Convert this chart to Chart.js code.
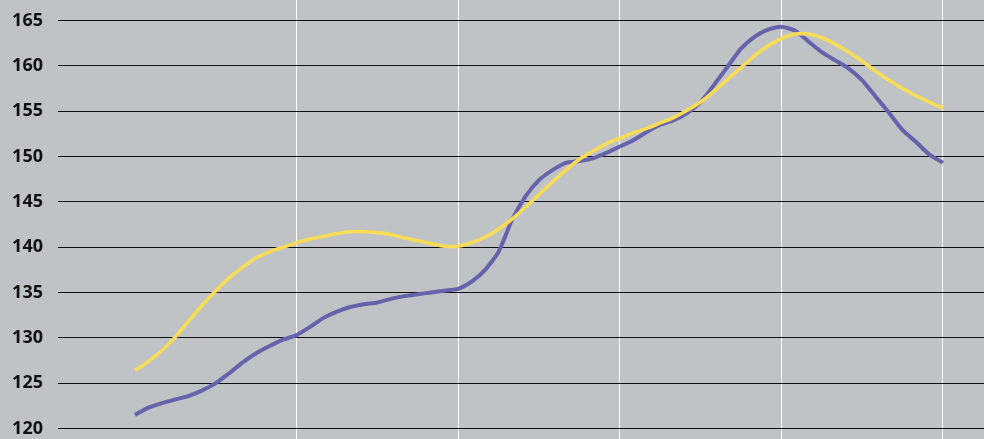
<!DOCTYPE html>
<html>
<head>
<meta charset="utf-8">
<script src="https://cdn.jsdelivr.net/npm/chart.js@4"></script>
<style>
  html, body { margin: 0; padding: 0; background: #bfc3c6; }
  #wrap { width: 984px; height: 439px; position: relative; }
</style>
</head>
<body>
<div id="wrap"><canvas id="myChart"></canvas></div>
<script>
// datos (un punto por mes, 61 puntos)
const months = Array.from({ length: 61 }, (_, i) => i);
const purpleValues = [121.5, 122.3, 122.8, 123.2, 123.6, 124.2, 125.0, 126.1, 127.3, 128.3, 129.1, 129.8,
  130.3, 131.2, 132.2, 132.9, 133.4, 133.7, 133.9, 134.3, 134.6, 134.8, 135.0, 135.2,
  135.4, 136.2, 137.5, 139.5, 143.0, 145.6, 147.4, 148.5, 149.3, 149.5, 149.8, 150.4,
  151.1, 151.8, 152.7, 153.5, 154.0, 154.8, 156.0, 157.9, 159.9, 161.9, 163.2, 164.0,
  164.3, 163.9, 162.7, 161.5, 160.6, 159.7, 158.4, 156.6, 154.8, 152.9, 151.6, 150.2, 149.3];
const yellowValues = [126.4, 127.4, 128.6, 130.1, 131.9, 133.6, 135.2, 136.6, 137.8, 138.8, 139.5, 140.0,
  140.5, 140.9, 141.2, 141.5, 141.7, 141.7, 141.6, 141.4, 141.0, 140.7, 140.4, 140.1,
  140.1, 140.5, 141.1, 142.0, 143.1, 144.4, 145.8, 147.2, 148.5, 149.7, 150.6, 151.4,
  152.0, 152.6, 153.1, 153.7, 154.3, 155.1, 156.0, 157.2, 158.5, 159.8, 161.1, 162.2,
  163.0, 163.5, 163.5, 163.1, 162.4, 161.5, 160.5, 159.4, 158.4, 157.5, 156.7, 156.0, 155.3];
const yTicks = [120, 125, 130, 135, 140, 145, 150, 155, 160, 165];
const xTicks = [12, 24, 36, 48, 60];

const toPoints = vals => vals.map((v, i) => ({ x: months[i], y: v }));

const bgPlugin = {
  id: 'bg',
  beforeDraw(chart) {
    const c = chart.ctx;
    c.save();
    c.fillStyle = '#bfc3c6';
    c.fillRect(0, 0, chart.width, chart.height);
    c.restore();
  }
};

const ctx = document.getElementById('myChart').getContext('2d');
new Chart(ctx, {
  type: 'line',
  data: {
    datasets: [{
      label: 'B',
      data: toPoints(yellowValues),
      borderColor: '#f9dc55',
      borderWidth: 3.6,
      pointRadius: 0,
      tension: 0.4
    }, {
      label: 'A',
      data: toPoints(purpleValues),
      borderColor: '#6762ac',
      borderWidth: 4,
      pointRadius: 0,
      tension: 0.2
    }]
  },
  options: {
    responsive: true,
    maintainAspectRatio: false,
    animation: false,
    layout: { padding: 0 },
    plugins: { legend: { display: false }, tooltip: { enabled: false } },
    scales: {
      x: {
        type: 'linear',
        min: -5.718,
        max: 63.045,
        afterBuildTicks: s => { s.ticks = xTicks.map(v => ({ value: v })); },
        afterFit: s => { s.height = 0; s.paddingLeft = 0; s.paddingRight = 0; },
        ticks: { display: false },
        grid: { color: '#ffffff', lineWidth: 1, drawTicks: false },
        border: { display: false }
      },
      y: {
        min: 118.84,
        max: 167.26,
        afterBuildTicks: s => { s.ticks = yTicks.map(v => ({ value: v })); },
        afterFit: s => { s.width = 58; s.paddingTop = 0; s.paddingBottom = 0; },
        ticks: {
          padding: 15,
          color: '#111111',
          font: { family: 'Open Sans', weight: 'bold', size: 18 }
        },
        grid: { color: '#111111', lineWidth: 1, drawTicks: false },
        border: { display: false }
      }
    }
  },
  plugins: [bgPlugin]
});
</script>
</body>
</html>
